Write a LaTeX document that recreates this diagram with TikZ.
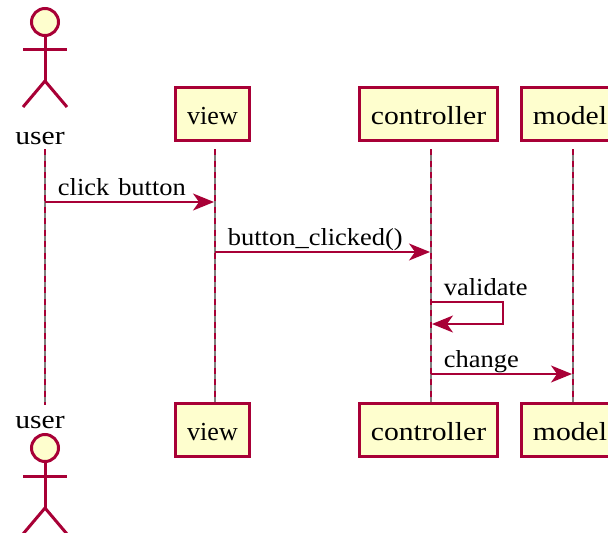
\documentclass[tikz,border=0pt]{standalone}
\usepackage{fontspec}
\setmainfont{Liberation Serif}
\newfontfamily\partfont[FakeStretch=1.14]{Liberation Serif}
\newfontfamily\msgfont[FakeStretch=1.08, WordSpace=1.35]{Liberation Serif}
\usetikzlibrary{arrows.meta, positioning}
\definecolor{umlred}{HTML}{A80036}
\definecolor{umlfill}{HTML}{FEFECE}
\tikzset{
  part/.style={draw=umlred, fill=umlfill, line width=3pt, inner sep=0pt, minimum height=53pt, text height=21pt, text depth=0pt, font=\partfont\fontsize{26}{30}\selectfont},
  caption/.style={inner sep=0pt, font=\partfont\fontsize{26}{30}\selectfont},
  limb/.style={draw=umlred, line width=3pt},
  life/.style={draw=gray, line width=2.2pt, postaction={draw=umlred, dash pattern=on 6pt off 5.5pt}},
  msg/.style={draw=umlred, line width=1.8pt, shorten >=1pt, -{Stealth[length=21pt, width=17pt, inset=6pt, umlred]}},
  msgtext/.style={inner sep=0pt, anchor=base west, pos=0, xshift=12pt, yshift=7pt, font=\msgfont\fontsize{24.5}{28}\selectfont}
}
\begin{document}
\begin{tikzpicture}[x=1pt, y=-1pt]
\useasboundingbox (0,0) rectangle (608,533);

% head row
\node[part, minimum width=74pt] (view top) at (212.5,113.5) {\fontspec{Liberation Serif}view};
\node[part, minimum width=138pt] (controller top) at (428.5,113.5) {controller};
\node[part, minimum width=98pt] (model top) at (570,113.5) {model};
\node[caption, anchor=base] (user top) at (40,144) {user};

% foot row
\node[part, minimum width=74pt] (view bottom) at (212.5,429.5) {\fontspec{Liberation Serif}view};
\node[part, minimum width=138pt] (controller bottom) at (428.5,429.5) {controller};
\node[part, minimum width=98pt] (model bottom) at (570,429.5) {model};
\node[caption, anchor=base] (user bottom) at (40,428) {user};

% ends of the lifelines
\coordinate (user start) at (45,149);
\coordinate (user end) at (45,405);
\coordinate (view start) at (215,149);
\coordinate (view end) at (215,403);
\coordinate (controller start) at (431,149);
\coordinate (controller end) at (431,403);
\coordinate (model start) at (573,149);
\coordinate (model end) at (573,403);

\draw[life] (user start) -- (user end);
\draw[life] (view start) -- (view end);
\draw[life] (controller start) -- (controller end);
\draw[life] (model start) -- (model end);

% actors
\node[circle, limb, fill=umlfill, minimum size=27pt, inner sep=0pt] (head top) at (45,22) {};
\coordinate (hip top) at (45,81);
\coordinate (arm top l) at (23,49);
\coordinate (arm top r) at (67,49);
\coordinate (foot top l) at (23,107);
\coordinate (foot top r) at (67,107);
\draw[limb] (head top) -- (hip top);
\draw[limb] (arm top l) -- (arm top r);
\draw[limb] (foot top l) -- (hip top) -- (foot top r);

\node[circle, limb, fill=umlfill, minimum size=27pt, inner sep=0pt] (head bottom) at (45,448) {};
\coordinate (hip bottom) at (45,508);
\coordinate (arm bottom l) at (23,476);
\coordinate (arm bottom r) at (67,476);
\coordinate (foot bottom l) at (23,534);
\coordinate (foot bottom r) at (67,534);
\draw[limb] (head bottom) -- (hip bottom);
\draw[limb] (arm bottom l) -- (arm bottom r);
\draw[limb] (foot bottom l) -- (hip bottom) -- (foot bottom r);

% messages
\coordinate (click from) at (45,202);
\coordinate (click to) at (215,202);
\coordinate (clicked from) at (215,252);
\coordinate (clicked to) at (431,252);
\coordinate (validate from) at (431,302);
\coordinate (validate turn a) at (503,302);
\coordinate (validate turn b) at (503,324);
\coordinate (validate to) at (431,324);
\coordinate (change from) at (431,374);
\coordinate (change to) at (573,374);

\draw[msg] (click from) -- node[msgtext] {click button} (click to);
\draw[msg] (clicked from) -- node[msgtext] {button\_clicked()} (clicked to);
\draw[msg] (validate from) -- node[msgtext] {validate} (validate turn a) -- (validate turn b) -- (validate to);
\draw[msg] (change from) -- node[msgtext] {change} (change to);

\end{tikzpicture}
\end{document}
